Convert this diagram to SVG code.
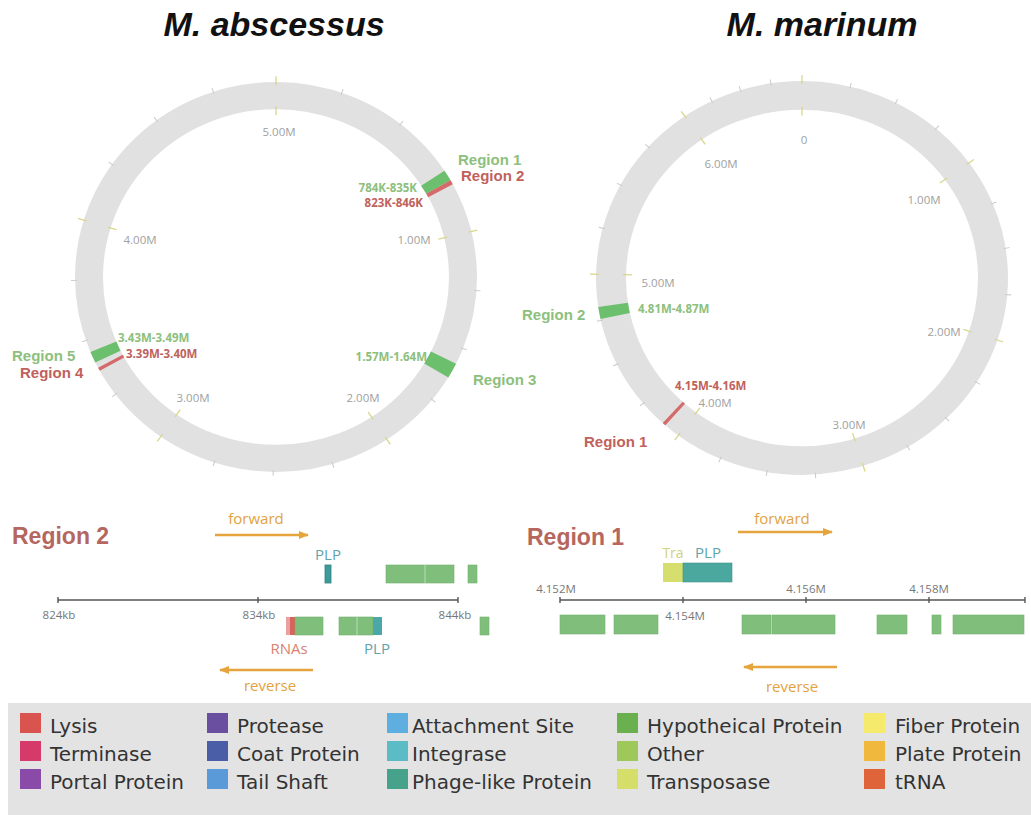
<svg xmlns="http://www.w3.org/2000/svg" width="1031" height="815" viewBox="0 0 1031 815">
<defs>
<style>
.title{font-family:"Liberation Sans",Arial,sans-serif;font-weight:bold;font-style:italic;font-size:34px;fill:#111;text-anchor:middle}
.ring{fill:none;stroke:#e1e1e1}
.maj{stroke:#d9d68c;stroke-width:1.3}
.min{stroke:#c9c9c9;stroke-width:1}
.tl{font-family:"Open Sans","DejaVu Sans",sans-serif;font-size:11.5px;fill:#a0a0a0;text-anchor:middle}
.rg{font-family:"Liberation Sans",Arial,sans-serif;font-weight:bold;font-size:15px}
.rng{font-family:"Open Sans","DejaVu Sans",sans-serif;font-weight:bold;font-size:11.5px}
.g{fill:#8dc07c}
.r{fill:#bf625c}
.bandg{fill:none;stroke:#6cbf6c}
.bandr{fill:none;stroke:#d46a6a}
.big{font-family:"Liberation Sans",Arial,sans-serif;font-weight:bold;font-size:23px;fill:#b5675f}
.dir{font-family:"Open Sans","DejaVu Sans",sans-serif;font-size:15px;fill:#e3a23e;text-anchor:middle}
.arr{stroke:#e6a43c;stroke-width:2.5;fill:none}
.gl{font-family:"Open Sans","DejaVu Sans",sans-serif;font-size:15px;text-anchor:middle}
.ax{stroke:#555;stroke-width:1.4}
.axl{font-family:"Open Sans","DejaVu Sans",sans-serif;font-size:11.5px;fill:#777;text-anchor:middle}
.gene{fill:#7fbf7b;stroke:#72b06e;stroke-width:0.6}
.sep{stroke:#b8dcb6;stroke-width:1}
.leg{font-family:"DejaVu Sans",Verdana,sans-serif;font-size:20px;fill:#333}
</style>
<marker id="ah" markerUnits="userSpaceOnUse" markerWidth="12" markerHeight="10" refX="9" refY="5" orient="auto">
<path d="M0,1 L10,5 L0,9 Z" fill="#e6a43c"/>
</marker>
</defs>
<rect width="1031" height="815" fill="#fff"/>

<g id="title-abscessus"><text class="title" x="274" y="36">M. abscessus</text></g>
<g id="title-marinum"><text class="title" x="822" y="36">M. marinum</text></g>

<!-- Left circle -->
<g id="circle-abscessus">
<g transform="translate(276,277) scale(1,0.97)">
<circle class="ring" r="187" stroke-width="28"/>
<g class="min">
<line y1="-199" y2="-205" transform="rotate(19.1)"/><line y1="-199" y2="-205" transform="rotate(38.3)"/>
<line y1="-199" y2="-205" transform="rotate(94)"/><line y1="-199" y2="-205" transform="rotate(111.5)"/><line y1="-199" y2="-205" transform="rotate(129)"/>
<line y1="-199" y2="-205" transform="rotate(163.6)"/><line y1="-199" y2="-205" transform="rotate(180.8)"/><line y1="-199" y2="-205" transform="rotate(197.9)"/>
<line y1="-199" y2="-205" transform="rotate(233)"/><line y1="-199" y2="-205" transform="rotate(251)"/><line y1="-199" y2="-205" transform="rotate(269)"/>
<line y1="-199" y2="-205" transform="rotate(305.3)"/><line y1="-199" y2="-205" transform="rotate(323.5)"/><line y1="-199" y2="-205" transform="rotate(341.8)"/>
</g>
<g class="maj">
<g transform="rotate(0)"><line y1="-198" y2="-207"/><line y1="-176" y2="-167"/></g>
<g transform="rotate(76.5)"><line y1="-198" y2="-207"/><line y1="-176" y2="-167"/></g>
<g transform="rotate(146.5)"><line y1="-198" y2="-207"/><line y1="-176" y2="-167"/></g>
<g transform="rotate(215)"><line y1="-198" y2="-207"/><line y1="-176" y2="-167"/></g>
<g transform="rotate(287)"><line y1="-198" y2="-207"/><line y1="-176" y2="-167"/></g>
</g>
<path class="bandg" stroke-width="28" d="M156.8,-101.8 A187,187 0 0 1 162.4,-92.7"/>
<path class="bandr" stroke-width="28" d="M162.4,-92.7 A187,187 0 0 1 164.5,-88.9"/>
<path class="bandg" stroke-width="28" d="M167.5,83.1 A187,187 0 0 1 160.3,96.3"/>
<path class="bandg" stroke-width="28" d="M-168.1,82.0 A187,187 0 0 1 -172.6,71.9"/>
<path class="bandr" stroke-width="28" d="M-164.0,89.8 A187,187 0 0 1 -165.6,86.9"/>
</g>
<text class="tl" x="279" y="136">5.00M</text>
<text class="tl" x="414" y="244">1.00M</text>
<text class="tl" x="140" y="244">4.00M</text>
<text class="tl" x="193" y="402">3.00M</text>
<text class="tl" x="363" y="402">2.00M</text>
<text class="rg g" x="458" y="165">Region 1</text>
<text class="rg r" x="461" y="181">Region 2</text>
<text class="rng g" x="417" y="192" text-anchor="end">784K-835K</text>
<text class="rng r" x="423" y="207" text-anchor="end">823K-846K</text>
<text class="rg g" x="473" y="385">Region 3</text>
<text class="rng g" x="427" y="361" text-anchor="end">1.57M-1.64M</text>
<text class="rg g" x="12" y="361">Region 5</text>
<text class="rg r" x="20" y="378">Region 4</text>
<text class="rng g" x="118" y="342">3.43M-3.49M</text>
<text class="rng r" x="126" y="358">3.39M-3.40M</text>
</g>

<!-- Right circle -->
<g id="circle-marinum">
<g transform="translate(802,278) scale(1,0.956)">
<circle class="ring" r="191" stroke-width="30"/>
<g class="min">
<line y1="-204" y2="-210" transform="rotate(13.55)"/><line y1="-204" y2="-210" transform="rotate(27.1)"/><line y1="-204" y2="-210" transform="rotate(40.65)"/>
<line y1="-204" y2="-210" transform="rotate(67.75)"/><line y1="-204" y2="-210" transform="rotate(81.3)"/><line y1="-204" y2="-210" transform="rotate(94.85)"/>
<line y1="-204" y2="-210" transform="rotate(122)"/><line y1="-204" y2="-210" transform="rotate(135.5)"/><line y1="-204" y2="-210" transform="rotate(149.1)"/>
<line y1="-204" y2="-210" transform="rotate(176.25)"/><line y1="-204" y2="-210" transform="rotate(189.8)"/><line y1="-204" y2="-210" transform="rotate(203.35)"/>
<line y1="-204" y2="-210" transform="rotate(230.45)"/><line y1="-204" y2="-210" transform="rotate(244)"/><line y1="-204" y2="-210" transform="rotate(257.55)"/>
<line y1="-204" y2="-210" transform="rotate(284.65)"/><line y1="-204" y2="-210" transform="rotate(298.2)"/><line y1="-204" y2="-210" transform="rotate(311.75)"/>
<line y1="-204" y2="-210" transform="rotate(334)"/><line y1="-204" y2="-210" transform="rotate(342.6)"/><line y1="-204" y2="-210" transform="rotate(351.3)"/>
</g>
<g class="maj">
<g transform="rotate(0)"><line y1="-203" y2="-212"/><line y1="-179" y2="-170"/></g>
<g transform="rotate(54.2)"><line y1="-203" y2="-212"/><line y1="-179" y2="-170"/></g>
<g transform="rotate(108.4)"><line y1="-203" y2="-212"/><line y1="-179" y2="-170"/></g>
<g transform="rotate(162.7)"><line y1="-203" y2="-212"/><line y1="-179" y2="-170"/></g>
<g transform="rotate(216.9)"><line y1="-203" y2="-212"/><line y1="-179" y2="-170"/></g>
<g transform="rotate(271.1)"><line y1="-203" y2="-212"/><line y1="-179" y2="-170"/></g>
<g transform="rotate(325.3)"><line y1="-203" y2="-212"/><line y1="-179" y2="-170"/></g>
</g>
<path class="bandg" stroke-width="30" d="M-186.8,39.7 A191,191 0 0 1 -188.9,28.2"/>
<path class="bandr" stroke-width="30" d="M-126.8,142.8 A191,191 0 0 1 -129.3,140.6"/>
</g>
<text class="tl" x="804" y="144">0</text>
<text class="tl" x="721" y="168">6.00M</text>
<text class="tl" x="924" y="204">1.00M</text>
<text class="tl" x="658" y="287">5.00M</text>
<text class="tl" x="944" y="336">2.00M</text>
<text class="tl" x="715" y="407">4.00M</text>
<text class="tl" x="849" y="429">3.00M</text>
<text class="rg g" x="522" y="320">Region 2</text>
<text class="rng g" x="638" y="313">4.81M-4.87M</text>
<text class="rng r" x="675" y="390">4.15M-4.16M</text>
<text class="rg r" x="584" y="447">Region 1</text>
</g>

<!-- Region 2 detail -->
<g id="detail-region2">
<text class="big" x="12" y="544">Region 2</text>
<text class="dir" x="256" y="524">forward</text>
<text class="gl" x="328" y="560" fill="#5fa3ad">PLP</text>
<rect x="325" y="565" width="6" height="18" fill="#3d9b9b" stroke="#2f7f80" stroke-width="0.8"/>
<rect class="gene" x="386" y="565" width="68" height="18"/>
<line class="sep" x1="425" y1="565" x2="425" y2="583"/>
<rect class="gene" x="468" y="565" width="9" height="18"/>
<line class="ax" x1="58" y1="600" x2="458" y2="600"/>
<g class="ax"><line x1="58" y1="597" x2="58" y2="603"/><line x1="258" y1="597" x2="258" y2="603"/><line x1="458" y1="597" x2="458" y2="603"/></g>
<text class="axl" x="59" y="619">824kb</text>
<text class="axl" x="259" y="619">834kb</text>
<text class="axl" x="455" y="619">844kb</text>
<rect x="286" y="617" width="4" height="18" fill="#eaa0a0"/>
<rect x="290" y="617" width="5" height="18" fill="#d9625a"/>
<rect class="gene" x="295" y="617" width="28" height="18"/>
<rect class="gene" x="339" y="617" width="34" height="18"/>
<line class="sep" x1="357" y1="617" x2="357" y2="635"/>
<rect x="373" y="617" width="9" height="18" fill="#4aa8a8"/>
<rect class="gene" x="480" y="617" width="9" height="18"/>
<text class="gl" x="289" y="654" fill="#d9826f">RNAs</text>
<text class="gl" x="377" y="654" fill="#5fa3ad">PLP</text>
<text class="dir" x="270" y="691">reverse</text>
</g>

<!-- Region 1 detail -->
<g id="detail-region1">
<text class="big" x="527" y="545">Region 1</text>
<text class="dir" x="782" y="524">forward</text>
<text class="gl" x="673" y="558" fill="#d2d27a" style="font-size:14px">Tra</text>
<text class="gl" x="708" y="558" fill="#5fa3ad">PLP</text>
<rect x="663" y="563" width="20" height="19" fill="#d6df6e"/>
<rect x="683" y="563" width="49" height="19" fill="#4aa89e" stroke="#3f9289" stroke-width="0.6"/>
<line class="ax" x1="560" y1="600" x2="1025" y2="600"/>
<g class="ax"><line x1="560" y1="597" x2="560" y2="603"/><line x1="683" y1="597" x2="683" y2="603"/><line x1="806" y1="597" x2="806" y2="603"/><line x1="929" y1="597" x2="929" y2="603"/><line x1="1025" y1="597" x2="1025" y2="603"/></g>
<text class="axl" x="556" y="593">4.152M</text>
<text class="axl" x="806" y="593">4.156M</text>
<text class="axl" x="929" y="593">4.158M</text>
<text class="axl" x="685" y="620">4.154M</text>
<rect class="gene" x="560" y="615" width="45" height="19"/>
<rect class="gene" x="614" y="615" width="44" height="19"/>
<rect class="gene" x="742" y="615" width="29" height="19"/>
<rect class="gene" x="772" y="615" width="63" height="19"/>
<rect class="gene" x="877" y="615" width="30" height="19"/>
<rect class="gene" x="932" y="615" width="9" height="19"/>
<rect class="gene" x="953" y="615" width="71" height="19"/>
<text class="dir" x="792" y="692">reverse</text>
</g>

<g id="connectors">
<line class="arr" x1="215" y1="535" x2="308" y2="535" marker-end="url(#ah)"/>
<line class="arr" x1="313" y1="670" x2="220" y2="670" marker-end="url(#ah)"/>
<line class="arr" x1="738" y1="532" x2="832" y2="532" marker-end="url(#ah)"/>
<line class="arr" x1="837" y1="667" x2="744" y2="667" marker-end="url(#ah)"/>
</g>

<!-- Legend -->
<g id="legend">
<rect x="8" y="703" width="1023" height="112" fill="#e3e3e3"/>
<rect x="20" y="713" width="21" height="20" fill="#d9534f"/><text class="leg" x="50" y="733">Lysis</text>
<rect x="20" y="741" width="21" height="20" fill="#d63a6a"/><text class="leg" x="50" y="761">Terminase</text>
<rect x="20" y="769" width="21" height="20" fill="#8a4aa8"/><text class="leg" x="50" y="789">Portal Protein</text>
<rect x="207" y="713" width="21" height="20" fill="#6a4ea0"/><text class="leg" x="237" y="733">Protease</text>
<rect x="207" y="741" width="21" height="20" fill="#4a5ea8"/><text class="leg" x="237" y="761">Coat Protein</text>
<rect x="207" y="769" width="21" height="20" fill="#5a9ad8"/><text class="leg" x="237" y="789">Tail Shaft</text>
<rect x="387" y="713" width="21" height="20" fill="#5eaee0"/><text class="leg" x="412" y="733">Attachment Site</text>
<rect x="387" y="741" width="21" height="20" fill="#5cbcc6"/><text class="leg" x="412" y="761">Integrase</text>
<rect x="387" y="769" width="21" height="20" fill="#46a28a"/><text class="leg" x="412" y="789">Phage-like Protein</text>
<rect x="617" y="713" width="21" height="20" fill="#6ab04e"/><text class="leg" x="647" y="733">Hypotheical Protein</text>
<rect x="617" y="741" width="21" height="20" fill="#9ec85a"/><text class="leg" x="647" y="761">Other</text>
<rect x="617" y="769" width="21" height="20" fill="#d6de6a"/><text class="leg" x="647" y="789">Transposase</text>
<rect x="864" y="713" width="21" height="20" fill="#f6ea6c"/><text class="leg" x="895" y="733">Fiber Protein</text>
<rect x="864" y="741" width="21" height="20" fill="#f0b83c"/><text class="leg" x="895" y="761">Plate Protein</text>
<rect x="864" y="769" width="21" height="20" fill="#e0643a"/><text class="leg" x="895" y="789">tRNA</text>
</g>
</svg>
